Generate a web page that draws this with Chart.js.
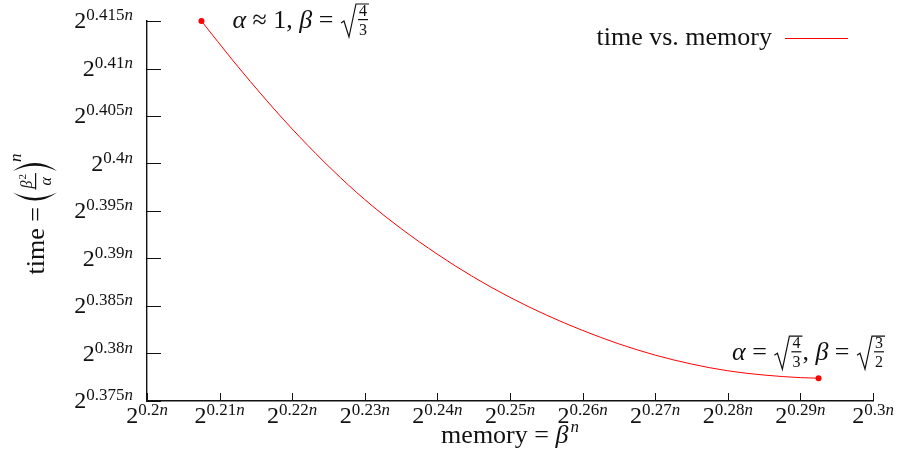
<!DOCTYPE html>
<html>
<head>
<meta charset="utf-8">
<script src="https://cdn.jsdelivr.net/npm/chart.js@4"></script>
<style>
  html, body { margin: 0; padding: 0; background: #fff; }
  #wrap { width: 897px; height: 457px; position: relative; }
</style>
</head>
<body>
<div id="wrap"><canvas id="myChart"></canvas></div>
<script>
// exponents e in 2^(e n)
const memoryExp = [0.2075, 0.212, 0.2165, 0.221, 0.2255, 0.23, 0.235, 0.24, 0.245, 0.25, 0.255, 0.26, 0.265, 0.27, 0.275, 0.28, 0.285, 0.29, 0.2925];
const timeExp   = [0.4150, 0.41068, 0.40661, 0.40282, 0.39935, 0.39620, 0.39315, 0.39045, 0.38803, 0.38591, 0.38405, 0.38243, 0.38101, 0.37983, 0.37889, 0.37818, 0.37773, 0.37746, 0.3774];

const xTickValues = [0.2, 0.21, 0.22, 0.23, 0.24, 0.25, 0.26, 0.27, 0.28, 0.29, 0.3];
const yTickValues = [0.375, 0.38, 0.385, 0.39, 0.395, 0.4, 0.405, 0.41, 0.415];
const xTickLabels = ['0.2', '0.21', '0.22', '0.23', '0.24', '0.25', '0.26', '0.27', '0.28', '0.29', '0.3'];
const yTickLabels = ['0.375', '0.38', '0.385', '0.39', '0.395', '0.4', '0.405', '0.41', '0.415'];

const seriesLabel = 'time vs. memory';

const SERIF = '"Liberation Serif", "DejaVu Serif", serif';
const BIG = 26;
function font(size, it) { return (it ? 'italic ' : '') + size + 'px ' + SERIF; }

// tiny "math" text layout: runs of text, fractions, square roots, big parens
function runWidth(ctx, r) {
  if (r.frac) {
    const w = Math.max(runsWidth(ctx, r.frac[0]), runsWidth(ctx, r.frac[1])) + 4;
    return r.sqrt ? w + 17 : w;
  }
  if (r.paren) return r.w + 2;
  ctx.font = font(r.size, r.it);
  return ctx.measureText(r.s).width + (r.gap || 0);
}
function runsWidth(ctx, runs) {
  return runs.reduce((a, r) => a + runWidth(ctx, r), 0);
}
function drawRuns(ctx, runs, x, y, align) {
  const total = runsWidth(ctx, runs);
  let cx = align === 'right' ? x - total : align === 'center' ? x - total / 2 : x;
  for (const r of runs) {
    const w = runWidth(ctx, r);
    if (r.frac) {
      let fx = cx;
      const inner = w - (r.sqrt ? 17 : 0);
      if (r.sqrt) {
        ctx.beginPath();
        ctx.lineWidth = 1.2;
        ctx.moveTo(cx + 1, y - 5);
        ctx.lineTo(cx + 4, y - 7);
        ctx.lineTo(cx + 9, y + 9);
        ctx.lineTo(cx + 16, y - 24);
        ctx.lineTo(cx + w, y - 24);
        ctx.stroke();
        fx = cx + 17;
      }
      ctx.fillRect(fx + 1, y - 9, inner - 2, 1.2);
      drawRuns(ctx, r.frac[0], fx + inner / 2, y - 12, 'center');
      drawRuns(ctx, r.frac[1], fx + inner / 2, y + 7, 'center');
    } else if (r.paren) {
      // thin-ended crescent like a TeX big delimiter
      const top = y + r.mid - r.h / 2, bot = y + r.mid + r.h / 2, m = y + r.mid;
      const left = r.paren === 'l';
      const ex = left ? cx + r.w : cx + 1;         // ends
      const ox = left ? cx : cx + r.w + 1;          // outer bulge
      const ix = left ? cx + 2.6 : cx + r.w - 1.6;  // inner bulge
      ctx.beginPath();
      ctx.moveTo(ex, top);
      ctx.quadraticCurveTo(2 * ox - ex, m, ex, bot);
      ctx.quadraticCurveTo(2 * ix - ex, m, ex, top);
      ctx.fill();
    } else {
      ctx.font = font(r.size, r.it);
      ctx.fillText(r.s, cx, y + (r.dy || 0));
    }
    cx += w;
  }
}
function pow2(exp) {
  return [
    { s: '2', size: 24 },
    { s: exp, size: 17, dy: -8 },
    { s: 'n', size: 17, it: true, dy: -8 }
  ];
}

const texPlugin = {
  id: 'texLabels',
  afterDraw(chart) {
    const ctx = chart.ctx;
    const xs = chart.scales.x, ys = chart.scales.y;
    const area = chart.chartArea;
    ctx.save();
    ctx.fillStyle = '#111';
    ctx.strokeStyle = '#111';
    ctx.textAlign = 'left';
    ctx.textBaseline = 'alphabetic';

    // inward tick marks
    ctx.lineWidth = 1;
    ctx.beginPath();
    yTickValues.forEach(v => {
      const py = Math.round(ys.getPixelForValue(v)) + 0.5;
      ctx.moveTo(area.left, py); ctx.lineTo(area.left + 14, py);
    });
    xTickValues.forEach(v => {
      const px = Math.round(xs.getPixelForValue(v)) + 0.5;
      ctx.moveTo(px, area.bottom); ctx.lineTo(px, area.bottom - 8);
    });
    ctx.stroke();

    // tick labels
    yTickValues.forEach((v, i) => {
      drawRuns(ctx, pow2(yTickLabels[i]), area.left - 14, ys.getPixelForValue(v) + 7, 'right');
    });
    xTickValues.forEach((v, i) => {
      drawRuns(ctx, pow2(xTickLabels[i]), xs.getPixelForValue(v), area.bottom + 22, 'center');
    });

    // x title
    drawRuns(ctx, [
      { s: 'memory = ', size: BIG },
      { s: 'β', size: BIG, it: true, gap: 2 },
      { s: 'n', size: 17, it: true, dy: -11 }
    ], (area.left + area.right) / 2, 443, 'center');

    // y title (rotated)
    ctx.save();
    ctx.translate(44, (area.top + area.bottom) / 2 + 3);
    ctx.rotate(-Math.PI / 2);
    drawRuns(ctx, [
      { s: 'time = ', size: BIG },
      { paren: 'l', w: 8, h: 44, mid: -9 },
      { frac: [[{ s: 'β', size: 16, it: true, gap: 1 }, { s: '2', size: 11, dy: -6 }], [{ s: 'α', size: 16, it: true }]] },
      { paren: 'r', w: 8, h: 44, mid: -9 },
      { s: 'n', size: 17, it: true, dy: -23 }
    ], 0, 0, 'center');
    ctx.restore();

    // annotations at the two ends of the curve
    const ds = chart.data.datasets[0].data;
    const p0x = xs.getPixelForValue(ds[0].x), p0y = ys.getPixelForValue(ds[0].y);
    const last = ds[ds.length - 1];
    const p1x = xs.getPixelForValue(last.x), p1y = ys.getPixelForValue(last.y);
    const four3 = { sqrt: true, frac: [[{ s: '4', size: 16 }], [{ s: '3', size: 16 }]] };
    const three2 = { sqrt: true, frac: [[{ s: '3', size: 16 }], [{ s: '2', size: 16 }]] };
    drawRuns(ctx, [
      { s: 'α', size: BIG, it: true }, { s: ' ≈ 1, ', size: BIG },
      { s: 'β', size: BIG, it: true }, { s: ' = ', size: BIG }, four3
    ], p0x + 31, p0y + 7, 'left');
    drawRuns(ctx, [
      { s: 'α', size: BIG, it: true }, { s: ' = ', size: BIG }, four3, { s: ', ', size: BIG },
      { s: 'β', size: BIG, it: true }, { s: ' = ', size: BIG }, three2
    ], p1x - 10, p1y - 18, 'center');

    // legend
    const dset = chart.data.datasets[0];
    drawRuns(ctx, [{ s: dset.label, size: BIG }], 772, 45, 'right');
    ctx.strokeStyle = dset.borderColor;
    ctx.lineWidth = 1;
    ctx.beginPath();
    ctx.moveTo(785, 38.5); ctx.lineTo(848, 38.5);
    ctx.stroke();
    ctx.restore();
  }
};

const points = memoryExp.map((x, i) => ({ x: x, y: timeExp[i] }));
const lastIdx = points.length - 1;

new Chart(document.getElementById('myChart').getContext('2d'), {
  type: 'scatter',
  data: {
    datasets: [{
      label: seriesLabel,
      data: points,
      showLine: true,
      borderColor: '#ff0000',
      borderWidth: 1,
      backgroundColor: '#ff0000',
      cubicInterpolationMode: 'monotone',
      pointRadius: c => (c.dataIndex === 0 || c.dataIndex === lastIdx ? 3 : 0),
      pointBorderWidth: 0,
      pointHoverRadius: 0,
      clip: false
    }]
  },
  options: {
    responsive: true,
    maintainAspectRatio: false,
    animation: false,
    layout: { padding: { top: 21, right: 24, left: 0, bottom: 0 } },
    plugins: { legend: { display: false }, tooltip: { enabled: false } },
    scales: {
      x: {
        type: 'linear', min: 0.2, max: 0.3,
        grid: { display: false },
        border: { display: true, color: '#111', width: 1.4 },
        ticks: { display: false },
        afterBuildTicks: s => { s.ticks = xTickValues.map(v => ({ value: v })); },
        afterFit: s => { s.height = 56; }
      },
      y: {
        type: 'linear', min: 0.375, max: 0.415,
        grid: { display: false },
        border: { display: true, color: '#111', width: 1.4 },
        ticks: { display: false },
        afterBuildTicks: s => { s.ticks = yTickValues.map(v => ({ value: v })); },
        afterFit: s => { s.width = 147; }
      }
    }
  },
  plugins: [texPlugin]
});
</script>
</body>
</html>
